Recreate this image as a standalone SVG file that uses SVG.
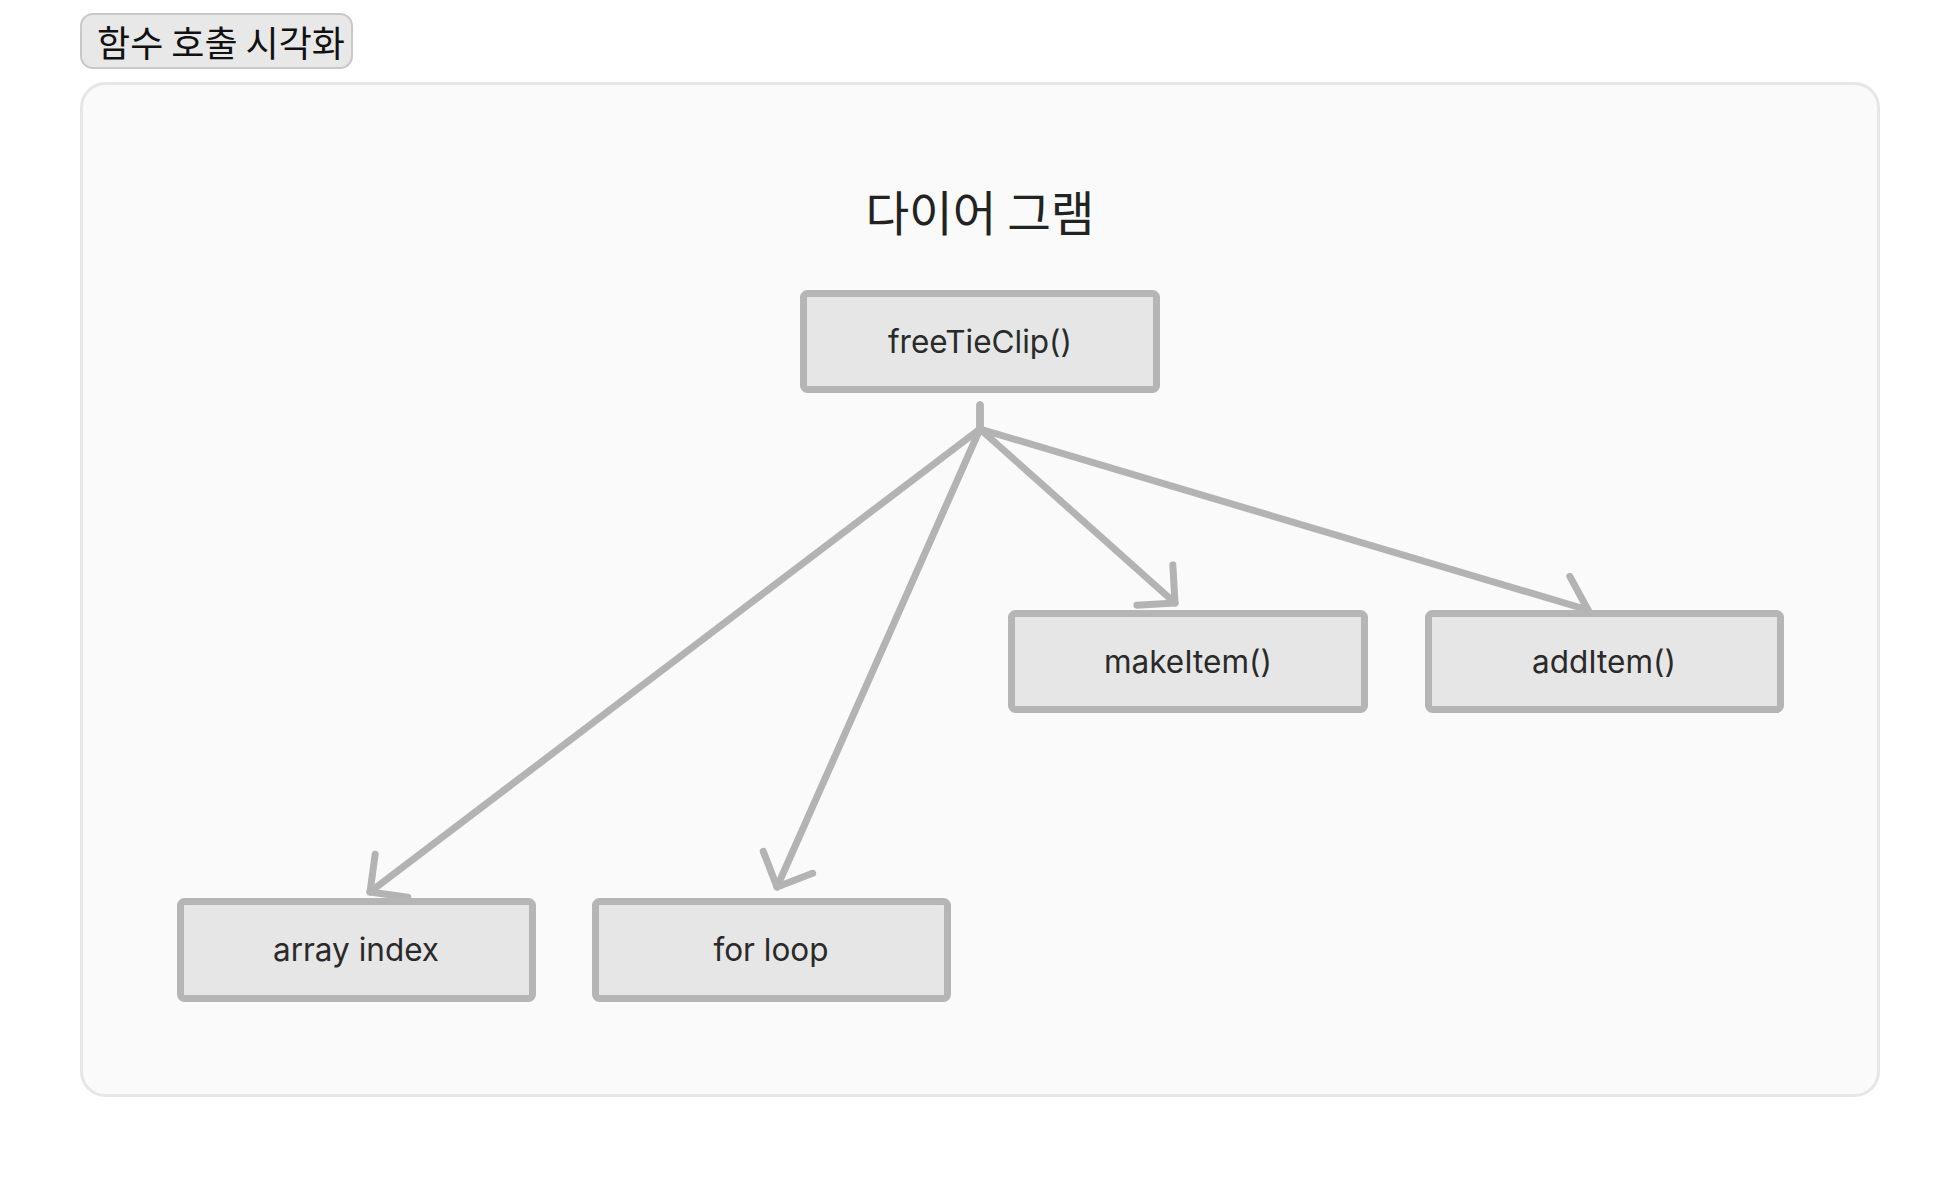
<svg xmlns="http://www.w3.org/2000/svg" width="1960" height="1178" viewBox="0 0 1960 1178">
<style>
.node rect{fill:#e6e6e6;stroke:#b5b5b5;stroke-width:7}
.node text{font-family:Inter,"Liberation Sans",sans-serif;font-size:31.5px;fill:#2a2a2a;text-anchor:middle}
.conn path{fill:none;stroke:#b3b3b3;stroke-width:7;stroke-linecap:round;stroke-linejoin:round}
</style>
<defs>
<marker id="arr" markerUnits="userSpaceOnUse" viewBox="-40 -30 50 60" markerWidth="50" markerHeight="60" refX="0" refY="0" orient="auto" overflow="visible">
<path d="M-27,-27 L0,0 L-27,27" fill="none" stroke="#b3b3b3" stroke-width="7" stroke-linecap="round" stroke-linejoin="round"/>
</marker>
</defs>
<rect width="1960" height="1178" fill="#ffffff"/>
<g id="header">
<rect x="81" y="14" width="271" height="54" rx="12" fill="#e8e8e8" stroke="#c8c8c8" stroke-width="2"/>
<text x="221" y="57" font-family="'Noto Sans CJK KR',sans-serif" font-size="36" fill="#111" text-anchor="middle">함수 호출 시각화</text>
</g>
<g id="panel">
<rect x="81.5" y="83.5" width="1797" height="1012" rx="24" fill="#fafafa" stroke="#e6e6e6" stroke-width="3"/>
<text x="980" y="231" font-family="'Noto Sans CJK KR',sans-serif" font-size="47.5" fill="#222" text-anchor="middle">다이어 그램</text>
</g>
<g id="connectors" class="conn">
<path d="M980,405 L980,429 L370,892" marker-end="url(#arr)"/>
<path d="M980,405 L980,429 L777,887" marker-end="url(#arr)"/>
<path d="M980,405 L980,429 L1175,603" marker-end="url(#arr)"/>
<path d="M980,405 L980,429 L1588,610" marker-end="url(#arr)"/>
</g>
<g id="freeTieClip" class="node">
<rect x="803.5" y="293.5" width="353" height="96" rx="4"/>
<text x="980" y="353">freeTieClip()</text>
</g>
<g id="makeItem" class="node">
<rect x="1011.5" y="613.5" width="353" height="96" rx="4"/>
<text x="1188" y="673">makeItem()</text>
</g>
<g id="addItem" class="node">
<rect x="1428.5" y="613.5" width="352" height="96" rx="4"/>
<text x="1604" y="673">addItem()</text>
</g>
<g id="arrayIndex" class="node">
<rect x="180.5" y="901.5" width="352" height="97" rx="4"/>
<text x="356" y="961">array index</text>
</g>
<g id="forLoop" class="node">
<rect x="595.5" y="901.5" width="352" height="97" rx="4"/>
<text x="771" y="961">for loop</text>
</g>
</svg>
